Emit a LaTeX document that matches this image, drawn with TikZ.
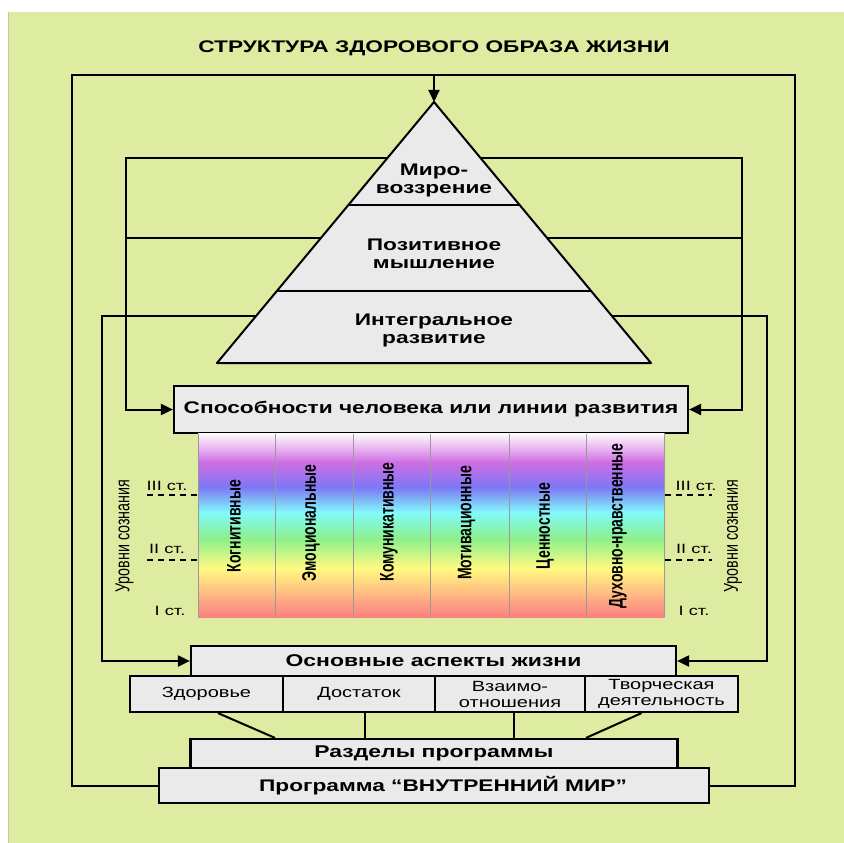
\documentclass[tikz,border=0pt]{standalone}
\usepackage{fontspec}
\setmainfont[FakeStretch=1.35]{Liberation Sans}
\newfontfamily\plainfont{Liberation Sans}
\usetikzlibrary{arrows.meta}
\definecolor{bgc}{RGB}{221,236,160}
\definecolor{boxgray}{RGB}{234,234,234}
\definecolor{rb0}{RGB}{250,128,128}
\definecolor{rb1}{RGB}{255,190,130}
\definecolor{rb2}{RGB}{255,250,130}
\definecolor{rb3}{RGB}{140,240,140}
\definecolor{rb4}{RGB}{130,250,250}
\definecolor{rb5}{RGB}{125,120,245}
\definecolor{rb6}{RGB}{205,110,228}
\definecolor{rb7}{RGB}{238,195,243}
\definecolor{rb8}{RGB}{252,250,252}
\pgfdeclareverticalshading{rainbowsh}{100bp}{color(0bp)=(rb0); color(25bp)=(rb0); color(31.8bp)=(rb1); color(38.3bp)=(rb2); color(46.4bp)=(rb3); color(53.5bp)=(rb4); color(60.3bp)=(rb5); color(67.1bp)=(rb6); color(71.8bp)=(rb7); color(75bp)=(rb8); color(100bp)=(rb8)}
\begin{document}
\begin{tikzpicture}[x=1pt,y=-1pt,
  box/.style={draw=black,line width=2.2pt,fill=boxgray,inner sep=0pt,align=center},
  ln/.style={line width=2pt,draw=black},
  arr/.style={ln,-{Triangle[length=12pt,width=11pt]}},
  dsh/.style={line width=2pt,draw=black,dash pattern=on 6pt off 5pt},
  bigb/.style={font=\bfseries\fontsize{16.8}{17.6}\selectfont},
  midb/.style={font=\bfseries\fontsize{17}{17}\selectfont},
  ttl/.style={font=\bfseries\fontsize{16.8}{17}\selectfont},
  reg/.style={font=\fontsize{14.8}{16}\selectfont},
  stg/.style={font=\fontsize{13.5}{13.5}\selectfont},
  coltxt/.style={rotate=90,font=\plainfont\bfseries\fontsize{14}{14}\selectfont},
  lvl/.style={rotate=90,font=\plainfont\fontsize{14.3}{14}\selectfont},
]
\useasboundingbox (0,0) rectangle (844,843);
\fill[white] (0,0) rectangle (844,843);
\fill[bgc] (8.5,12.5) rectangle (844,843);
\draw[line width=1pt,draw=bgc!70!gray] (8.5,12.5) -- (8.5,843);

% title
\node[ttl] (title) at (434,48) {СТРУКТУРА ЗДОРОВОГО ОБРАЗА ЖИЗНИ};

% coordinates
\coordinate (apex) at (434,102);
\coordinate (bl) at (217,363);
\coordinate (br) at (651,363);
\coordinate (tm) at (434,75);
\coordinate (oL) at (72,75);
\coordinate (oR) at (795,75);
\coordinate (m1) at (434,158);
\coordinate (m2) at (434,238);
\coordinate (m3) at (434,316);
\coordinate (L1) at (126,158);
\coordinate (L2) at (126,238);
\coordinate (R1) at (742,158);
\coordinate (R2) at (742,238);
\coordinate (L3) at (102,316);
\coordinate (R3) at (767,316);

% boxes
\node[box,bigb,minimum width=514pt,minimum height=47pt] (spos) at (431,409.5) {Способности человека или линии развития};
\node[box,midb,minimum width=485pt,minimum height=30pt] (asp) at (433.5,661) {Основные аспекты жизни};
\node[box,midb,minimum width=487pt,minimum height=29pt] (razd) at (434,753.5) {Разделы программы};
\node[box,bigb,minimum width=550pt,minimum height=35pt] (prog) at (434,785.5) {\hspace*{18pt}Программа “ВНУТРЕННИЙ МИР”};

% loops (behind pyramid)
\draw[ln] (prog.west) -| (oL) -- (oR) |- (prog.east);
\draw[arr] (tm) -- (apex);
\draw[arr] (m1) -- (L1) |- (spos.west);
\draw[arr] (m1) -- (R1) |- (spos.east);
\draw[ln] (m2) -- (L2);
\draw[ln] (m2) -- (R2);
\draw[arr] (m3) -- (L3) |- (asp.west);
\draw[arr] (m3) -- (R3) |- (asp.east);

% pyramid
\filldraw[ln,fill=boxgray,line join=round] (apex) -- (br) -- (bl) -- cycle;
\draw[ln] (348.4,205) -- (519.6,205);
\draw[ln] (276.9,291) -- (591.1,291);
\node[bigb,align=center] (pyr1) at (434,180.5) {Миро-\\воззрение};
\node[bigb,align=center] (pyr2) at (434,254) {Позитивное\\мышление};
\node[bigb,align=center] (pyr3) at (434,330.5) {Интегральное\\развитие};

% rainbow
\shade[shading=rainbowsh] (198,433.5) rectangle (664.5,617);
\foreach \xx in {198,275.5,353,430.6,509,586.5,664.5}
  \draw[line width=1pt,draw=gray!80] (\xx,433.5) -- (\xx,617);
\node[coltxt] (k1) at (234,526) {\scalebox{1}[1.4]{Когнитивные}};
\node[coltxt] (k2) at (311,523) {\scalebox{1}[1.4]{Эмоциональные}};
\node[coltxt] (k3) at (389,522) {\scalebox{1}[1.4]{Комуникативные}};
\node[coltxt] (k4) at (466.5,523) {\scalebox{1}[1.4]{Мотивационные}};
\node[coltxt] (k5) at (545,526) {\scalebox{1}[1.4]{Ценностные}};
\node[coltxt] (k6) at (618,526) {\scalebox{1}[1.4]{Духовно-нравственные}};

% levels
\draw[dsh] (147,495) -- (197,495);
\draw[dsh] (147,560) -- (197,560);
\draw[dsh] (665,495) -- (712,495);
\draw[dsh] (665,560) -- (712,560);
\node[stg] (s3L) at (167,486) {III ст.};
\node[stg] (s2L) at (167,549) {II ст.};
\node[stg] (s1L) at (170,611) {I ст.};
\node[stg] (s3R) at (696,486) {III ст.};
\node[stg] (s2R) at (694,549) {II ст.};
\node[stg] (s1R) at (694,611) {I ст.};
\node[lvl] (lvL) at (124.5,536) {\scalebox{1}[1.4]{Уровни сознания}};
\node[lvl] (lvR) at (733,536) {\scalebox{1}[1.4]{Уровни сознания}};

% aspect cells
\node[box,reg,minimum width=153pt,minimum height=36pt] (c1) at (206.5,694) {Здоровье};
\node[box,reg,minimum width=152pt,minimum height=36pt] (c2) at (359,694) {Достаток};
\node[box,reg,minimum width=150pt,minimum height=36pt] (c3) at (510,694) {Взаимо-\\отношения};
\node[box,reg,minimum width=153pt,minimum height=36pt] (c4) at (661.5,694) {Творческая\\деятельность};

% connectors to program sections
\draw[ln] ([xshift=11.5pt]c1.south) -- ([xshift=-159pt]razd.north);
\draw[ln] ([xshift=6pt]c2.south) -- ([xshift=-69pt]razd.north);
\draw[ln] ([xshift=4pt]c3.south) -- ([xshift=80pt]razd.north);
\draw[ln] ([xshift=-20pt]c4.south) -- ([xshift=152pt]razd.north);
\end{tikzpicture}
\end{document}
